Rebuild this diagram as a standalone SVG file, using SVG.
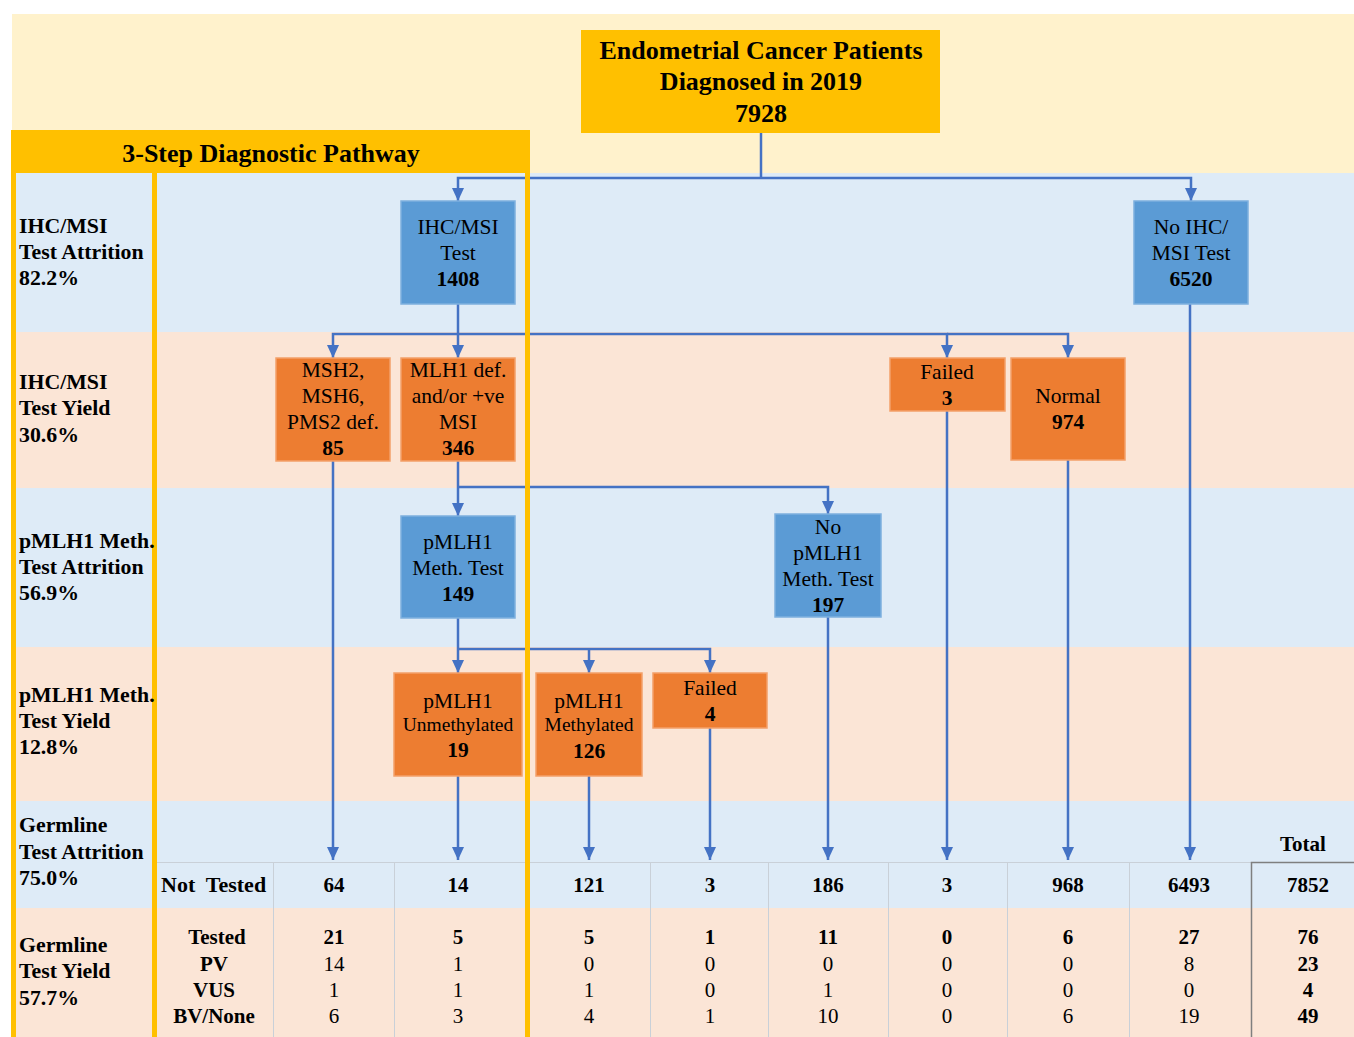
<svg xmlns="http://www.w3.org/2000/svg" width="1354" height="1037" viewBox="0 0 1354 1037">
<style>
text{font-family:"Liberation Serif","Times New Roman",serif;fill:#000}
.n{font-size:21.5px;text-anchor:middle}
.sm{font-size:19.5px}
.b{font-weight:bold}
.top{font-size:26px;font-weight:bold;text-anchor:middle}
.lbl{font-size:21.8px;font-weight:bold}
.tc{font-size:21px;text-anchor:middle}
.bluebox{fill:#5B9BD5;stroke:#7EB0DE;stroke-width:1.5}
.orbox{fill:#ED7D31;stroke:#F3A06A;stroke-width:1.5}
.conn path{fill:none;stroke:#4472C4;stroke-width:2.5}
.grid line{stroke:#C9D0D8;stroke-width:1}
</style>
<defs>
<marker id="arr" markerUnits="userSpaceOnUse" markerWidth="13" markerHeight="13" viewBox="0 0 13 12" refX="13" refY="6" orient="auto">
<path d="M0,0 L13,6 L0,12 Z" fill="#4472C4"/>
</marker>
</defs>

<g id="background">
<rect x="0" y="0" width="1354" height="1037" fill="#FFFFFF"/>
<rect x="12" y="14" width="1342" height="159" fill="#FFF2CC"/>
<rect x="11" y="173" width="1343" height="159" fill="#DEEBF7"/>
<rect x="11" y="332" width="1343" height="156" fill="#FBE5D6"/>
<rect x="11" y="488" width="1343" height="159" fill="#DEEBF7"/>
<rect x="11" y="647" width="1343" height="154" fill="#FBE5D6"/>
<rect x="11" y="801" width="1343" height="107" fill="#DEEBF7"/>
<rect x="11" y="908" width="1343" height="129" fill="#FBE5D6"/>
</g>

<g id="table-grid" class="grid">
<line x1="157" y1="862.5" x2="1251" y2="862.5"/>
<line x1="273.5" y1="862" x2="273.5" y2="1037"/>
<line x1="394.5" y1="862" x2="394.5" y2="1037"/>
<line x1="650.5" y1="862" x2="650.5" y2="1037"/>
<line x1="768.5" y1="862" x2="768.5" y2="1037"/>
<line x1="888.5" y1="862" x2="888.5" y2="1037"/>
<line x1="1007.5" y1="862" x2="1007.5" y2="1037"/>
<line x1="1129.5" y1="862" x2="1129.5" y2="1037"/>
<path d="M1251.5,1037 V862.5 H1354" fill="none" stroke="#7F7F7F" stroke-width="1.5"/>
</g>

<g id="connectors" class="conn">
<path d="M761,133 V178"/>
<path d="M761,178 H458 V201" marker-end="url(#arr)"/>
<path d="M761,178 H1191 V201" marker-end="url(#arr)"/>
<path d="M458,304 V358" marker-end="url(#arr)"/>
<path d="M458,334 H333 V358" marker-end="url(#arr)"/>
<path d="M458,334 H947 V358" marker-end="url(#arr)"/>
<path d="M947,334 H1068 V358" marker-end="url(#arr)"/>
<path d="M333,461 V860" marker-end="url(#arr)"/>
<path d="M458,461 V516" marker-end="url(#arr)"/>
<path d="M458,487 H828 V514" marker-end="url(#arr)"/>
<path d="M458,618 V673" marker-end="url(#arr)"/>
<path d="M458,649 H710 V673" marker-end="url(#arr)"/>
<path d="M589,649 V673" marker-end="url(#arr)"/>
<path d="M458,776 V860" marker-end="url(#arr)"/>
<path d="M589,776 V860" marker-end="url(#arr)"/>
<path d="M710,728 V860" marker-end="url(#arr)"/>
<path d="M828,617 V860" marker-end="url(#arr)"/>
<path d="M947,411 V860" marker-end="url(#arr)"/>
<path d="M1068,460 V860" marker-end="url(#arr)"/>
<path d="M1190,304 V860" marker-end="url(#arr)"/>
</g>

<g id="node-patients">
<rect x="581" y="30" width="359" height="103" fill="#FFC000"/>
<text class="top" x="761" y="59">Endometrial Cancer Patients</text>
<text class="top" x="761" y="90">Diagnosed in 2019</text>
<text class="top" x="761" y="122">7928</text>
</g>

<g id="node-ihc-test">
<rect class="bluebox" x="401" y="201" width="114" height="103"/>
<text class="n" x="458" y="233.5">IHC/MSI</text>
<text class="n" x="458" y="259.5">Test</text>
<text class="n b" x="458" y="285.5">1408</text>
</g>

<g id="node-no-ihc">
<rect class="bluebox" x="1134" y="201" width="114" height="103"/>
<text class="n" x="1191" y="233.5">No IHC/</text>
<text class="n" x="1191" y="259.5">MSI Test</text>
<text class="n b" x="1191" y="285.5">6520</text>
</g>

<g id="node-msh2">
<rect class="orbox" x="276" y="358" width="114" height="103"/>
<text class="n" x="333" y="376.5">MSH2,</text>
<text class="n" x="333" y="402.5">MSH6,</text>
<text class="n" x="333" y="428.5">PMS2 def.</text>
<text class="n b" x="333" y="454.5">85</text>
</g>

<g id="node-mlh1">
<rect class="orbox" x="401" y="358" width="114" height="103"/>
<text class="n" x="458" y="376.5">MLH1 def.</text>
<text class="n" x="458" y="402.5">and/or +ve</text>
<text class="n" x="458" y="428.5">MSI</text>
<text class="n b" x="458" y="454.5">346</text>
</g>

<g id="node-failed-ihc">
<rect class="orbox" x="890" y="358" width="115" height="53"/>
<text class="n" x="947" y="378.5">Failed</text>
<text class="n b" x="947" y="404.5">3</text>
</g>

<g id="node-normal">
<rect class="orbox" x="1011" y="358" width="114" height="102"/>
<text class="n" x="1068" y="402.5">Normal</text>
<text class="n b" x="1068" y="428.5">974</text>
</g>

<g id="node-pmlh1-test">
<rect class="bluebox" x="401" y="516" width="114" height="102"/>
<text class="n" x="458" y="548.5">pMLH1</text>
<text class="n" x="458" y="574.5">Meth. Test</text>
<text class="n b" x="458" y="600.5">149</text>
</g>

<g id="node-no-pmlh1">
<rect class="bluebox" x="775" y="514" width="106" height="103"/>
<text class="n" x="828" y="533.5">No</text>
<text class="n" x="828" y="559.5">pMLH1</text>
<text class="n" x="828" y="585.5">Meth. Test</text>
<text class="n b" x="828" y="611.5">197</text>
</g>

<g id="node-unmethylated">
<rect class="orbox" x="394" y="673" width="128" height="103"/>
<text class="n" x="458" y="707.5">pMLH1</text>
<text class="n sm" x="458" y="731">Unmethylated</text>
<text class="n b" x="458" y="756.5">19</text>
</g>

<g id="node-methylated">
<rect class="orbox" x="536" y="673" width="106" height="103"/>
<text class="n" x="589" y="707.5">pMLH1</text>
<text class="n sm" x="589" y="731">Methylated</text>
<text class="n b" x="589" y="757.5">126</text>
</g>

<g id="node-failed-meth">
<rect class="orbox" x="653" y="673" width="114" height="55"/>
<text class="n" x="710" y="694.5">Failed</text>
<text class="n b" x="710" y="720.5">4</text>
</g>

<g id="table">
<text class="tc b" x="1303" y="851">Total</text>
<text class="b" x="161" y="892" font-size="22" xml:space="preserve">Not  Tested</text>
<text class="tc b" x="334" y="892">64</text>
<text class="tc b" x="458" y="892">14</text>
<text class="tc b" x="589" y="892">121</text>
<text class="tc b" x="710" y="892">3</text>
<text class="tc b" x="828" y="892">186</text>
<text class="tc b" x="947" y="892">3</text>
<text class="tc b" x="1068" y="892">968</text>
<text class="tc b" x="1189" y="892">6493</text>
<text class="tc b" x="1308" y="892">7852</text>

<text class="tc b" x="217" y="944">Tested</text>
<text class="tc b" x="214" y="971">PV</text>
<text class="tc b" x="214" y="997">VUS</text>
<text class="tc b" x="214" y="1023">BV/None</text>

<text class="tc b" x="334" y="944">21</text>
<text class="tc" x="334" y="971">14</text>
<text class="tc" x="334" y="997">1</text>
<text class="tc" x="334" y="1023">6</text>

<text class="tc b" x="458" y="944">5</text>
<text class="tc" x="458" y="971">1</text>
<text class="tc" x="458" y="997">1</text>
<text class="tc" x="458" y="1023">3</text>

<text class="tc b" x="589" y="944">5</text>
<text class="tc" x="589" y="971">0</text>
<text class="tc" x="589" y="997">1</text>
<text class="tc" x="589" y="1023">4</text>

<text class="tc b" x="710" y="944">1</text>
<text class="tc" x="710" y="971">0</text>
<text class="tc" x="710" y="997">0</text>
<text class="tc" x="710" y="1023">1</text>

<text class="tc b" x="828" y="944">11</text>
<text class="tc" x="828" y="971">0</text>
<text class="tc" x="828" y="997">1</text>
<text class="tc" x="828" y="1023">10</text>

<text class="tc b" x="947" y="944">0</text>
<text class="tc" x="947" y="971">0</text>
<text class="tc" x="947" y="997">0</text>
<text class="tc" x="947" y="1023">0</text>

<text class="tc b" x="1068" y="944">6</text>
<text class="tc" x="1068" y="971">0</text>
<text class="tc" x="1068" y="997">0</text>
<text class="tc" x="1068" y="1023">6</text>

<text class="tc b" x="1189" y="944">27</text>
<text class="tc" x="1189" y="971">8</text>
<text class="tc" x="1189" y="997">0</text>
<text class="tc" x="1189" y="1023">19</text>

<text class="tc b" x="1308" y="944">76</text>
<text class="tc b" x="1308" y="971">23</text>
<text class="tc b" x="1308" y="997">4</text>
<text class="tc b" x="1308" y="1023">49</text>
</g>

<g id="pathway-frame">
<rect x="11" y="130" width="519" height="43" fill="#FFC000"/>
<rect x="11" y="130" width="5" height="907" fill="#FFC000"/>
<rect x="152" y="173" width="5" height="864" fill="#FFC000"/>
<rect x="525" y="130" width="5" height="907" fill="#FFC000"/>
<text class="top" x="271" y="162">3-Step Diagnostic Pathway</text>
</g>

<g id="row-labels">
<text class="lbl" x="19" y="233">IHC/MSI</text>
<text class="lbl" x="19" y="259">Test Attrition</text>
<text class="lbl" x="19" y="285">82.2%</text>
<text class="lbl" x="19" y="389">IHC/MSI</text>
<text class="lbl" x="19" y="415">Test Yield</text>
<text class="lbl" x="19" y="442">30.6%</text>
<text class="lbl" x="19" y="548">pMLH1 Meth.</text>
<text class="lbl" x="19" y="574">Test Attrition</text>
<text class="lbl" x="19" y="600">56.9%</text>
<text class="lbl" x="19" y="702">pMLH1 Meth.</text>
<text class="lbl" x="19" y="728">Test Yield</text>
<text class="lbl" x="19" y="754">12.8%</text>
<text class="lbl" x="19" y="832">Germline</text>
<text class="lbl" x="19" y="859">Test Attrition</text>
<text class="lbl" x="19" y="885">75.0%</text>
<text class="lbl" x="19" y="952">Germline</text>
<text class="lbl" x="19" y="978">Test Yield</text>
<text class="lbl" x="19" y="1005">57.7%</text>
</g>
</svg>
